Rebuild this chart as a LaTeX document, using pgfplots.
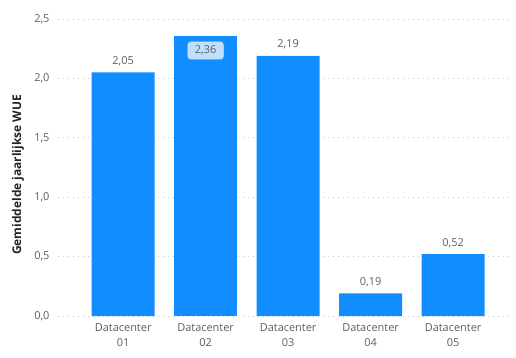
\documentclass[border=0pt]{standalone}
\usepackage{pgfplots}
\pgfplotsset{compat=1.18}
\usepackage{fontspec}
\setmainfont{Open Sans}
\definecolor{barblue}{HTML}{118DFF}
\definecolor{txtgray}{HTML}{605E5C}
\definecolor{lblgray}{HTML}{252423}
\definecolor{gridgray}{HTML}{C8C6C4}
\definecolor{hlfill}{HTML}{BFDFFC}
\begin{document}
\begin{tikzpicture}
\useasboundingbox (0,0) rectangle (516bp,358bp);
\begin{axis}[
  at={(58bp,42bp)}, anchor=south west,
  scale only axis, width=452bp, height=297bp,
  xmin=-0.79, xmax=4.69, ymin=0, ymax=2.5,
  axis line style={draw=none},
  ybar, bar width=63bp,
  xtick={0,1,2,3,4},
  xticklabels={{Datacenter\\01},{Datacenter\\02},{Datacenter\\03},{Datacenter\\04},{Datacenter\\05}},
  xticklabel style={align=center, font=\fontsize{11}{15}\selectfont, text=txtgray, yshift=-4bp},
  ytick={0,0.5,1,1.5,2,2.5},
  yticklabel style={font=\fontsize{11}{13}\selectfont, text=txtgray, xshift=-5bp,
    /pgf/number format/.cd, fixed, fixed zerofill, precision=1, use comma, assume math mode=true},
  ymajorgrids, major grid style={gridgray, line width=0.8bp, dash pattern=on 1bp off 4bp},
  major tick length=0pt,
  ylabel={\bfseries Gemiddelde jaarlijkse WUE},
  ylabel style={at={(axis description cs:-0.0885,0.475)}, anchor=center, font=\fontsize{12}{14}\selectfont, text=lblgray},
  clip=false,
]
\addplot[fill=barblue, draw=none, bar shift=0pt,
  nodes near coords,
  nodes near coords style={font=\fontsize{11}{13}\selectfont, text=txtgray, yshift=3bp,
    /pgf/number format/.cd, fixed, fixed zerofill, precision=2, use comma, assume math mode=true}]
  coordinates {(0,2.05) (2,2.19) (3,0.19) (4,0.52)};
\addplot[fill=barblue, draw=none, bar shift=0pt,
  nodes near coords,
  nodes near coords style={font=\fontsize{11}{13}\selectfont, text=txtgray, anchor=north, yshift=-6bp,
    fill=hlfill, draw=hlfill!70!white, rounded corners=3bp, inner xsep=7bp, inner ysep=4bp,
    /pgf/number format/.cd, fixed, fixed zerofill, precision=2, use comma, assume math mode=true}]
  coordinates {(1,2.36)};
\end{axis}
\end{tikzpicture}
\end{document}
